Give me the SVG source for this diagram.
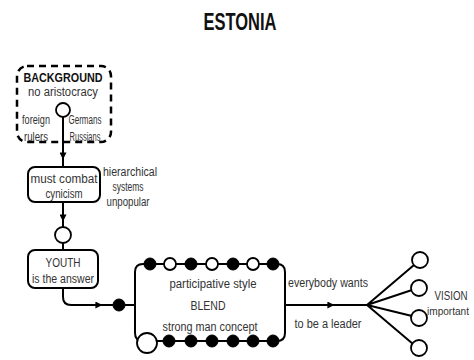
<svg xmlns="http://www.w3.org/2000/svg" width="474" height="360" viewBox="0 0 474 360">
<defs>
<marker id="arr" viewBox="0 0 10 10" refX="8" refY="5" markerWidth="8" markerHeight="7" orient="auto" markerUnits="userSpaceOnUse">
<path d="M0,0 L10,5 L0,10 z" fill="#000"/>
</marker>
<style>
.t{font-family:"Liberation Sans",Arial,sans-serif;font-size:12px;fill:#333;text-anchor:middle}
.b{font-weight:bold;fill:#111}
.ln{fill:none;stroke:#000;stroke-width:2}
.box{fill:#fff;stroke:#000;stroke-width:2}
.wd{fill:#fff;stroke:#000;stroke-width:1.8}
.bd{fill:#000;stroke:#000;stroke-width:1}
</style>
</defs>
<rect width="474" height="360" fill="#fff"/>
<text x="240" y="30" font-family="Liberation Sans,Arial,sans-serif" font-weight="bold" font-size="23" text-anchor="middle" textLength="73" lengthAdjust="spacingAndGlyphs" fill="#111">ESTONIA</text>

<g id="connectors">
<path class="ln" d="M63,117 L63,158 L63,167" marker-mid="url(#arr)"/>
<path class="ln" d="M63,202 L63,220 L63,227" marker-mid="url(#arr)"/>
<path class="ln" d="M63,243 L63,250"/>
<path class="ln" d="M63,288 L63,297 Q63,305 71,305"/>
<path class="ln" d="M71,305 L101,305 L113,305" marker-mid="url(#arr)"/>
<path class="ln" d="M125,305 L135,305"/>
<path class="ln" d="M285,305 L333,305 L367,305" marker-mid="url(#arr)"/>
<path class="ln" d="M367,305 L414,265 M367,305 L412,290 M367,305 L412,316 M367,305 L413,344"/>
</g>

<g id="background">
<rect x="17" y="66" width="94" height="76" rx="10" fill="none" stroke="#000" stroke-width="2.5" stroke-dasharray="7,5"/>
<text class="t b" x="63" y="82" textLength="79" lengthAdjust="spacingAndGlyphs">BACKGROUND</text>
<text class="t" x="63" y="96" textLength="70" lengthAdjust="spacingAndGlyphs">no aristocracy</text>
<circle class="wd" cx="63" cy="110" r="7"/>
<text class="t" x="36" y="124" textLength="28" lengthAdjust="spacingAndGlyphs">foreign</text>
<text class="t" x="36" y="141" textLength="24" lengthAdjust="spacingAndGlyphs">rulers</text>
<text class="t" x="85" y="124" textLength="33" lengthAdjust="spacingAndGlyphs">Germans</text>
<text class="t" x="85" y="141" textLength="31" lengthAdjust="spacingAndGlyphs">Russians</text>
</g>

<g id="combat">
<rect class="box" x="28" y="167" width="72" height="35" rx="7"/>
<text class="t" x="64" y="183" textLength="67" lengthAdjust="spacingAndGlyphs">must combat</text>
<text class="t" x="64" y="198" textLength="37" lengthAdjust="spacingAndGlyphs">cynicism</text>
</g>

<g id="hierarchical">
<text class="t" x="130" y="176" textLength="54" lengthAdjust="spacingAndGlyphs">hierarchical</text>
<text class="t" x="128" y="191" textLength="31" lengthAdjust="spacingAndGlyphs">systems</text>
<text class="t" x="128" y="206" textLength="43" lengthAdjust="spacingAndGlyphs">unpopular</text>
</g>

<g id="circle1">
<circle class="wd" cx="63" cy="235" r="8"/>
</g>

<g id="youth">
<rect class="box" x="28" y="250" width="70" height="38" rx="7"/>
<text class="t" x="63" y="267" textLength="35" lengthAdjust="spacingAndGlyphs">YOUTH</text>
<text class="t" x="63" y="283" textLength="62" lengthAdjust="spacingAndGlyphs">is the answer</text>
</g>

<g id="dot-in">
<circle class="bd" cx="119" cy="305" r="6"/>
</g>

<g id="blend">
<path class="ln" d="M143,264 Q135,264 135,272 L135,333 Q135,341 143,341 M143,264 L277,264 Q285,264 285,272 L285,333 Q285,341 277,341 L143,341"/>
<circle class="bd" cx="150" cy="264" r="6"/>
<circle class="wd" cx="170" cy="264" r="6"/>
<circle class="bd" cx="191" cy="264" r="6"/>
<circle class="wd" cx="212" cy="264" r="6"/>
<circle class="bd" cx="233" cy="264" r="6"/>
<circle class="wd" cx="253" cy="264" r="6"/>
<circle class="bd" cx="273" cy="264" r="6"/>
<circle class="wd" cx="147" cy="343" r="10"/>
<circle class="bd" cx="169" cy="341" r="6"/>
<circle class="bd" cx="191" cy="341" r="6"/>
<circle class="bd" cx="212" cy="341" r="6"/>
<circle class="bd" cx="233" cy="341" r="6"/>
<circle class="bd" cx="253" cy="341" r="6"/>
<circle class="bd" cx="273" cy="341" r="6"/>
<text class="t" x="213" y="288" textLength="87" lengthAdjust="spacingAndGlyphs">participative style</text>
<text class="t" x="208" y="310" textLength="35" lengthAdjust="spacingAndGlyphs">BLEND</text>
<text class="t" x="210" y="331" textLength="95" lengthAdjust="spacingAndGlyphs">strong man concept</text>
</g>

<g id="leader">
<text class="t" x="328" y="287" textLength="80" lengthAdjust="spacingAndGlyphs">everybody wants</text>
<text class="t" x="328" y="328" textLength="67" lengthAdjust="spacingAndGlyphs">to be a leader</text>
</g>

<g id="vision">
<circle class="wd" cx="420" cy="260" r="8"/>
<circle class="wd" cx="419" cy="288" r="8"/>
<circle class="wd" cx="419" cy="318" r="8"/>
<circle class="wd" cx="419" cy="348" r="8"/>
<text class="t" x="451" y="300" textLength="33" lengthAdjust="spacingAndGlyphs">VISION</text>
<text class="t" x="448" y="315" font-size="11" style="font-size:11px" textLength="42" lengthAdjust="spacingAndGlyphs">important</text>
</g>
</svg>
